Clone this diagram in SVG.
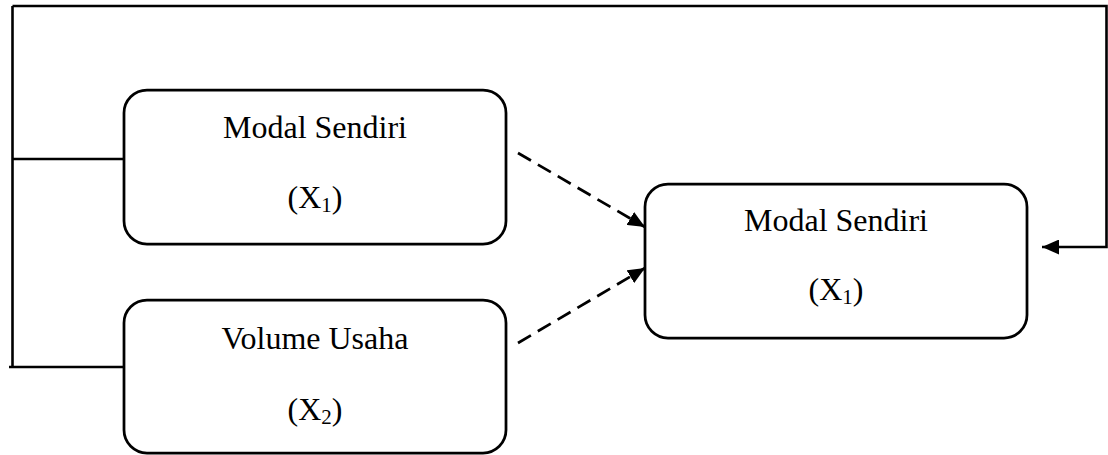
<svg xmlns="http://www.w3.org/2000/svg" width="1108" height="455" viewBox="0 0 1108 455">
<style>
.box{fill:#fff;stroke:#000;stroke-width:2.75}
.ln{fill:none;stroke:#000;stroke-width:2.6}
.dash{fill:none;stroke:#000;stroke-width:2.75;stroke-dasharray:15 8}
.t{font-family:"Liberation Serif","Times New Roman",serif;font-size:32px;fill:#000;text-anchor:middle}
.sub{font-size:21px}
</style>
<defs>
<marker id="ah" viewBox="0 0 17 15" refX="17" refY="7.5" markerWidth="17" markerHeight="15" markerUnits="userSpaceOnUse" orient="auto">
<path d="M0,0 L17,7.5 L0,15 Z" fill="#000"/>
</marker>
</defs>
<rect width="1108" height="455" fill="#fff"/>
<g id="connectors">
<path class="ln" d="M12.5,6 H1106.5 V247 H1042" marker-end="url(#ah)"/>
<path class="ln" d="M12.5,6 V367"/>
<path class="ln" d="M9,367 H124"/>
<path class="ln" d="M12.5,159 H124"/>
<path class="dash" d="M518,153 L645,227" marker-end="url(#ah)"/>
<path class="dash" d="M518,343 L645,268" marker-end="url(#ah)"/>
</g>
<g id="node-x1">
<rect class="box" x="124" y="90" width="382" height="154" rx="23"/>
<text class="t" x="315" y="138">Modal Sendiri</text>
<text class="t" x="315" y="208">(X<tspan class="sub" dy="4">1</tspan><tspan dy="-4">)</tspan></text>
</g>
<g id="node-x2">
<rect class="box" x="124" y="300" width="382" height="153" rx="23"/>
<text class="t" x="315" y="349">Volume Usaha</text>
<text class="t" x="315" y="420">(X<tspan class="sub" dy="4">2</tspan><tspan dy="-4">)</tspan></text>
</g>
<g id="node-y">
<rect class="box" x="645" y="184" width="382" height="154" rx="23"/>
<text class="t" x="836" y="231">Modal Sendiri</text>
<text class="t" x="836" y="300">(X<tspan class="sub" dy="4">1</tspan><tspan dy="-4">)</tspan></text>
</g>
</svg>
